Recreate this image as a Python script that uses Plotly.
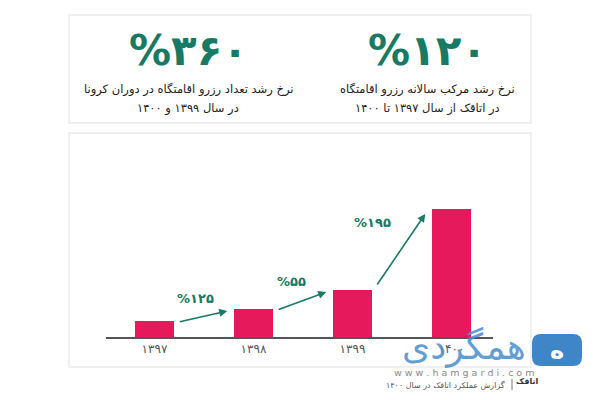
import plotly.graph_objects as go

# ---- data ----
years = ["۱۳۹۷", "۱۳۹۸", "۱۳۹۹", "۱۴۰۰"]
bookings = [16, 28, 47, 128]          # relative bar heights
growth_labels = ["%۱۲۵", "%۵۵", "%۱۹۵"]
kpi_values = ["%۳۶۰", "%۱۲۰"]
kpi_line1 = ["نرخ رشد تعداد رزرو اقامتگاه در دوران کرونا", "نرخ رشد مرکب سالانه رزرو اقامتگاه"]
kpi_line2 = ["در سال ۱۳۹۹ و ۱۴۰۰", "در اتاقک از سال ۱۳۹۷ تا ۱۴۰۰"]

W, H = 600, 400
GREEN = "#177a64"
PINK = "#e5195b"
FONT = "DejaVu Sans"

def px(x):
    return x / W

def py(y):
    return 1 - y / H

def rounded_rect(x0, y0, x1, y1, r):
    # path in paper coordinates, pixel inputs
    pts = []
    X0, X1 = px(x0), px(x1)
    Y0, Y1 = py(y0), py(y1)
    rx, ry = r / W, r / H
    return (f"M {X0+rx},{Y0} L {X1-rx},{Y0} Q {X1},{Y0} {X1},{Y0-ry} "
            f"L {X1},{Y1+ry} Q {X1},{Y1} {X1-rx},{Y1} L {X0+rx},{Y1} "
            f"Q {X0},{Y1} {X0},{Y1+ry} L {X0},{Y0-ry} Q {X0},{Y0} {X0+rx},{Y0} Z")

x_idx = list(range(len(years)))

fig = go.Figure()
fig.add_trace(go.Bar(
    x=x_idx, y=bookings, width=0.395,
    marker=dict(color=PINK, line=dict(width=0)),
    hoverinfo="skip",
))

shapes = [
    dict(type="rect", xref="paper", yref="paper", x0=px(69), x1=px(531), y0=py(123), y1=py(15),
         line=dict(color="#ebebeb", width=1.5), fillcolor="white", layer="below"),
    dict(type="rect", xref="paper", yref="paper", x0=px(69), x1=px(531), y0=py(367), y1=py(133),
         line=dict(color="#ebebeb", width=1.5), fillcolor="white", layer="below"),
    # watermark logo square
    dict(type="path", xref="paper", yref="paper", path=rounded_rect(532, 334, 582, 366, 9),
         line=dict(width=0), fillcolor="#3f86c9", layer="above"),
    dict(type="line", xref="paper", yref="paper", x0=px(512), x1=px(512), y0=py(390), y1=py(379),
         line=dict(color="#777", width=1)),
]

annotations = []
# KPI numbers and captions
kpi_x = [188, 427]
for i in range(2):
    annotations.append(dict(x=px(kpi_x[i]), y=py(50), xref="paper", yref="paper", text="<b>" + kpi_values[i] + "</b>",
                            showarrow=False, font=dict(family=FONT, size=42, color=GREEN),
                            xanchor="center", yanchor="middle"))
    annotations.append(dict(x=px(kpi_x[i]), y=py(89), xref="paper", yref="paper", text=kpi_line1[i],
                            showarrow=False, font=dict(family=FONT, size=11.5, color="#222"),
                            xanchor="center", yanchor="middle"))
    annotations.append(dict(x=px(kpi_x[i]), y=py(108), xref="paper", yref="paper", text=kpi_line2[i],
                            showarrow=False, font=dict(family=FONT, size=11.5, color="#222"),
                            xanchor="center", yanchor="middle"))

# growth arrows between consecutive bars
tail_dy = [-1, -1, 4]
head_dy = [-2, -2, -5]
label_pos = [(0.41, 39), (1.38, 56), (2.20, 115)]
for i in range(len(growth_labels)):
    annotations.append(dict(
        x=i + 0.735, y=bookings[i + 1] + head_dy[i], ax=i + 0.24, ay=bookings[i] + tail_dy[i],
        xref="x", yref="y", axref="x", ayref="y", text="", showarrow=True,
        arrowhead=2, arrowsize=1, arrowwidth=1.6, arrowcolor=GREEN, standoff=0,
    ))
    annotations.append(dict(
        x=label_pos[i][0], y=label_pos[i][1], xref="x", yref="y", text="<b>" + growth_labels[i] + "</b>",
        showarrow=False, font=dict(family=FONT, size=13, color=GREEN), xanchor="center", yanchor="middle",
    ))

# watermark
annotations += [
    dict(x=px(464), y=py(347), xref="paper", yref="paper", text="همگردی", showarrow=False,
         font=dict(family=FONT, size=36, color="rgba(70,140,205,0.85)"), xanchor="center", yanchor="middle"),
    dict(x=px(557), y=py(350), xref="paper", yref="paper", text="<b>ه</b>", showarrow=False,
         font=dict(family=FONT, size=24, color="white"), xanchor="center", yanchor="middle"),
    dict(x=px(464), y=py(372), xref="paper", yref="paper", text="w w w . h a m g a r d i . c o m", showarrow=False,
         font=dict(family=FONT, size=9.5, color="#8a8a8a"), xanchor="center", yanchor="middle"),
    dict(x=px(507), y=py(385), xref="paper", yref="paper", text="گزارش عملکرد اتاقک در سال ۱۴۰۰", showarrow=False,
         font=dict(family=FONT, size=8, color="#555"), xanchor="right", yanchor="middle"),
    dict(x=px(527), y=py(381), xref="paper", yref="paper", text="<b>اتاقک</b>", showarrow=False,
         font=dict(family=FONT, size=8, color="#333"), xanchor="center", yanchor="middle"),
]

fig.update_layout(
    width=W, height=H,
    margin=dict(l=0, r=0, t=0, b=0, pad=0),
    paper_bgcolor="white", plot_bgcolor="rgba(0,0,0,0)",
    showlegend=False,
    shapes=shapes,
    annotations=annotations,
    bargap=0,
    xaxis=dict(
        domain=[px(106), px(493)], range=[-0.49, 3.42],
        tickmode="array", tickvals=x_idx, ticktext=years,
        showline=True, linecolor="#555", linewidth=2, ticks="", showgrid=False, zeroline=False,
        tickfont=dict(family=FONT, size=12, color="#555"), fixedrange=True,
    ),
    yaxis=dict(
        domain=[1 - 337 / H, 1 - 200 / H], range=[0, 137],
        visible=False, showgrid=False, zeroline=False, fixedrange=True,
    ),
)

fig.write_html("out.html")
